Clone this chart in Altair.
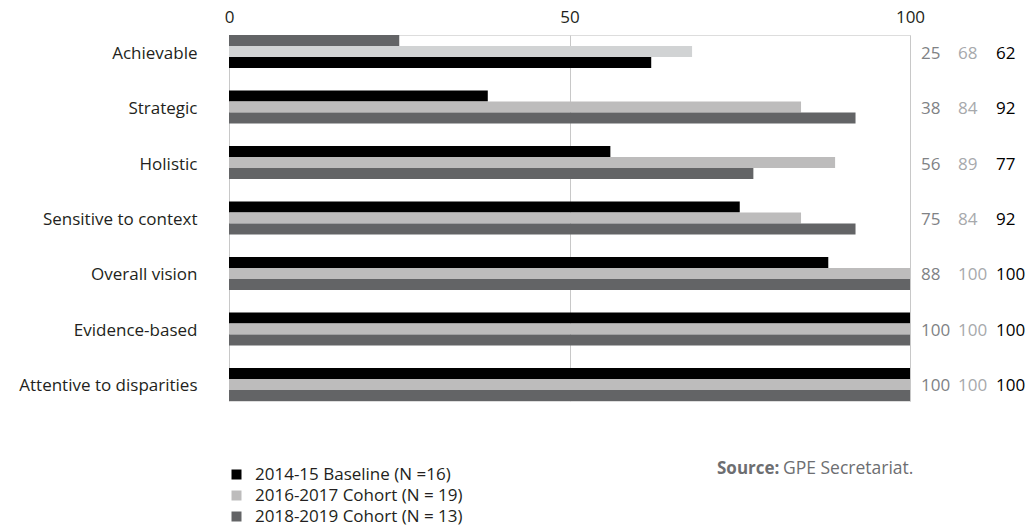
import altair as alt
import pandas as pd

# Plan characteristics and share of plans meeting each one (%)
items = ["Achievable", "Strategic", "Holistic", "Sensitive to context",
         "Overall vision", "Evidence-based", "Attentive to disparities"]
series = ["2014-15 Baseline (N =16)", "2016-2017 Cohort (N = 19)", "2018-2019 Cohort (N = 13)"]
baseline = [25, 38, 56, 75, 88, 100, 100]
cohort_16_17 = [68, 84, 89, 84, 100, 100, 100]
cohort_18_19 = [62, 92, 77, 92, 100, 100, 100]

FONT = "Open Sans"
colors = ["#000000", "#bdbcbc", "#636466"]

rows = []
for i, it in enumerate(items):
    for s, vals in zip(series, [baseline, cohort_16_17, cohort_18_19]):
        rows.append({"item": it, "series": s, "value": vals[i]})
df = pd.DataFrame(rows)
wide = pd.DataFrame({"item": items, "b": baseline, "c1": cohort_16_17, "c2": cohort_18_19})

y_enc = alt.Y("item:N", sort=items, title=None,
              scale=alt.Scale(paddingInner=0.404, paddingOuter=0),
              axis=alt.Axis(domain=False, ticks=False, labelFont=FONT, labelFontSize=17,
                            labelColor="#231f20", labelPadding=32, labelLimit=300,
                            labelOffset=2))

# the first row uses its own shading
cond = [
    {"test": f"datum.item == 'Achievable' && datum.series == '{series[0]}'", "value": "#636466"},
    {"test": f"datum.item == 'Achievable' && datum.series == '{series[1]}'", "value": "#d1d3d4"},
    {"test": f"datum.item == 'Achievable' && datum.series == '{series[2]}'", "value": "#000000"},
]

bars = alt.Chart(df).mark_bar().encode(
    y=y_enc,
    yOffset=alt.YOffset("series:N", sort=series,
                        scale=alt.Scale(paddingInner=0, paddingOuter=0)),
    x=alt.X("value:Q", title=None, scale=alt.Scale(domain=[0, 100]),
            axis=alt.Axis(orient="top", values=[0, 50, 100], domain=False, ticks=False,
                          grid=True, gridColor="#c8c8c8", gridWidth=1,
                          labelFont=FONT, labelFontSize=17, labelColor="#231f20",
                          labelPadding=9, labelFlush=False)),
    color=alt.Color("series:N", sort=series,
                    scale=alt.Scale(domain=series, range=colors),
                    legend=alt.Legend(orient="none", legendX=-1, legendY=431, title=None,
                                      symbolType="square", symbolSize=100,
                                      symbolStrokeWidth=0, labelFont=FONT,
                                      labelFontSize=17, labelColor="#231f20",
                                      labelOffset=10, rowPadding=3, labelLimit=400),
                    condition=cond),
)

def value_col(field, xpos, color):
    return alt.Chart(wide).mark_text(align="left", baseline="middle", font=FONT,
                                     fontSize=17, color=color, dy=2).encode(
        y=alt.Y("item:N", sort=items),
        x=alt.value(xpos),
        text=alt.Text(f"{field}:Q"),
    )

cols = [
    value_col("b", 692, "#808285"),
    value_col("c1", 729, "#a7a9ac"),
    value_col("c2", 767, "#000000"),
]

src = pd.DataFrame({"t": ["Source:"]})
src_bold = alt.Chart(src).mark_text(align="left", baseline="middle", font=FONT, fontSize=17,
                                    fontWeight="bold", color="#6d6e71").encode(
    x=alt.value(488), y=alt.value(434), text="t:N")
src2 = pd.DataFrame({"t": ["GPE Secretariat."]})
src_reg = alt.Chart(src2).mark_text(align="left", baseline="middle", font=FONT, fontSize=17.5,
                                    color="#6d6e71").encode(
    x=alt.value(554), y=alt.value(434), text="t:N")

chart = alt.layer(bars, *cols, src_bold, src_reg).properties(
    width=681, height=366,
    autosize=alt.AutoSizeParams(type="none"),
    padding={"left": 229, "top": 35, "right": 119, "bottom": 128},
).configure_view(stroke=None).configure(background="white")

chart.save("out.html", embed_options={"renderer": "svg", "actions": False})
